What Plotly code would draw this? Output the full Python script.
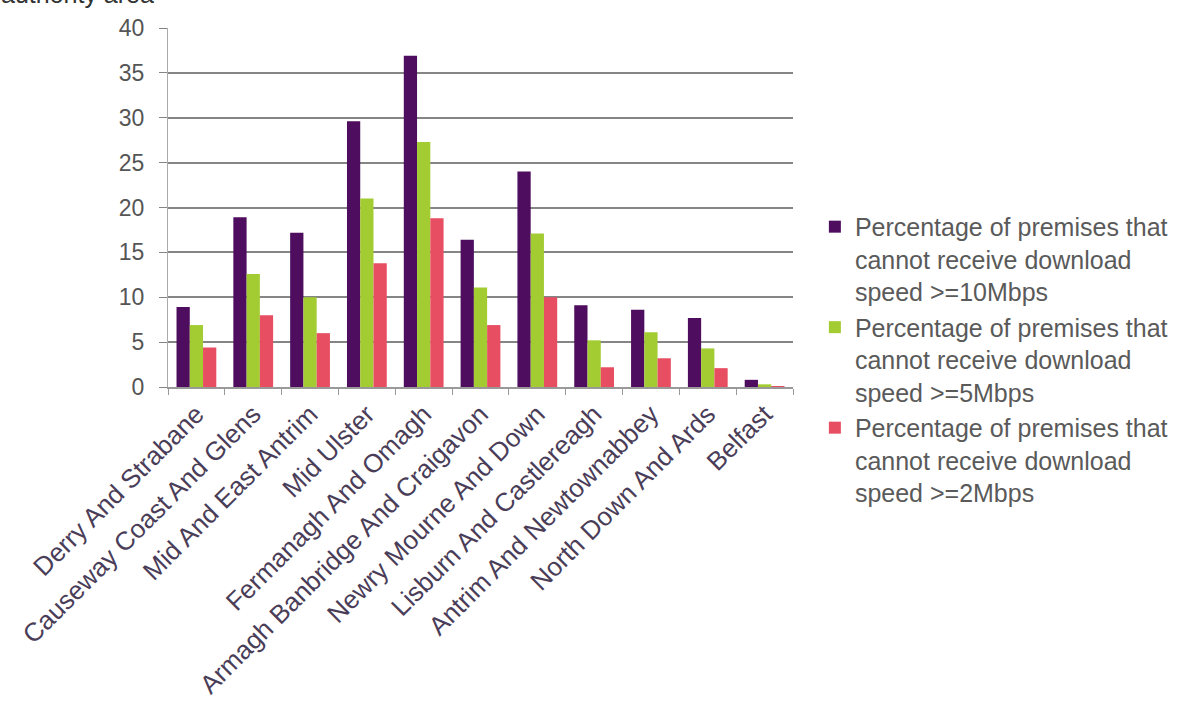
import plotly.graph_objects as go

# Local government districts, in chart order
areas = [
    "Derry And Strabane",
    "Causeway Coast And Glens",
    "Mid And East Antrim",
    "Mid Ulster",
    "Fermanagh And Omagh",
    "Armagh Banbridge And Craigavon",
    "Newry Mourne And Down",
    "Lisburn And Castlereagh",
    "Antrim And Newtownabbey",
    "North Down And Ards",
    "Belfast",
]

# Percentage of premises below each download speed threshold
below_10mbps = [8.9, 18.9, 17.2, 29.6, 36.9, 16.4, 24.0, 9.1, 8.6, 7.7, 0.8]
below_5mbps = [6.9, 12.6, 10.0, 21.0, 27.3, 11.1, 17.1, 5.2, 6.1, 4.3, 0.3]
below_2mbps = [4.4, 8.0, 6.0, 13.8, 18.8, 6.9, 10.0, 2.2, 3.2, 2.1, 0.1]

series_names = [
    "Percentage of premises that<br>cannot receive download<br>speed >=10Mbps",
    "Percentage of premises that<br>cannot receive download<br>speed >=5Mbps",
    "Percentage of premises that<br>cannot receive download<br>speed >=2Mbps",
]
series_colors = ["#4e0d5e", "#a3cc32", "#e84e62"]

y_ticks = [0, 5, 10, 15, 20, 25, 30, 35, 40]

fig = go.Figure()
for name, vals, color in zip(series_names, [below_10mbps, below_5mbps, below_2mbps], series_colors):
    fig.add_trace(go.Bar(x=areas, y=vals, name=name, marker=dict(color=color, line=dict(width=0))))

fig.update_layout(
    width=1196,
    height=711,
    margin=dict(l=168, r=403, t=28, b=324),
    paper_bgcolor="white",
    plot_bgcolor="white",
    barmode="group",
    bargap=0.3,
    bargroupgap=0,
    font=dict(family="Liberation Sans, Arial, sans-serif", color="#555555"),
    legend=dict(
        x=1.035,
        y=0.51,
        xanchor="left",
        yanchor="top",
        font=dict(size=25, color="#5a5a5a"),
        valign="top",
        tracegroupgap=13,
        itemwidth=30,
        bgcolor="rgba(0,0,0,0)",
    ),
    annotations=[
        dict(
            text="authority area",
            xref="paper",
            yref="paper",
            x=-0.27,
            y=1.0 + 18 / 359,
            xanchor="left",
            yanchor="bottom",
            showarrow=False,
            font=dict(size=25, color="#333333"),
        )
    ],
)

fig.update_xaxes(
    tickangle=-45,
    tickfont=dict(size=26, color="#4a3d58"),
    showline=True,
    linecolor="#999999",
    linewidth=1.5,
    ticks="outside",
    tickcolor="#999999",
    ticklen=6,
    tickson="boundaries",
    showgrid=False,
)
fig.update_yaxes(
    range=[0, 40],
    tickvals=y_ticks,
    tickfont=dict(size=23, color="#555555"),
    showgrid=True,
    gridcolor="#858585",
    gridwidth=1.6,
    showline=True,
    linecolor="#aaaaaa",
    linewidth=1,
    ticks="outside",
    tickcolor="#858585",
    ticklen=8,
    ticklabelstandoff=10,
    zeroline=False,
)

fig.write_html("out.html")
